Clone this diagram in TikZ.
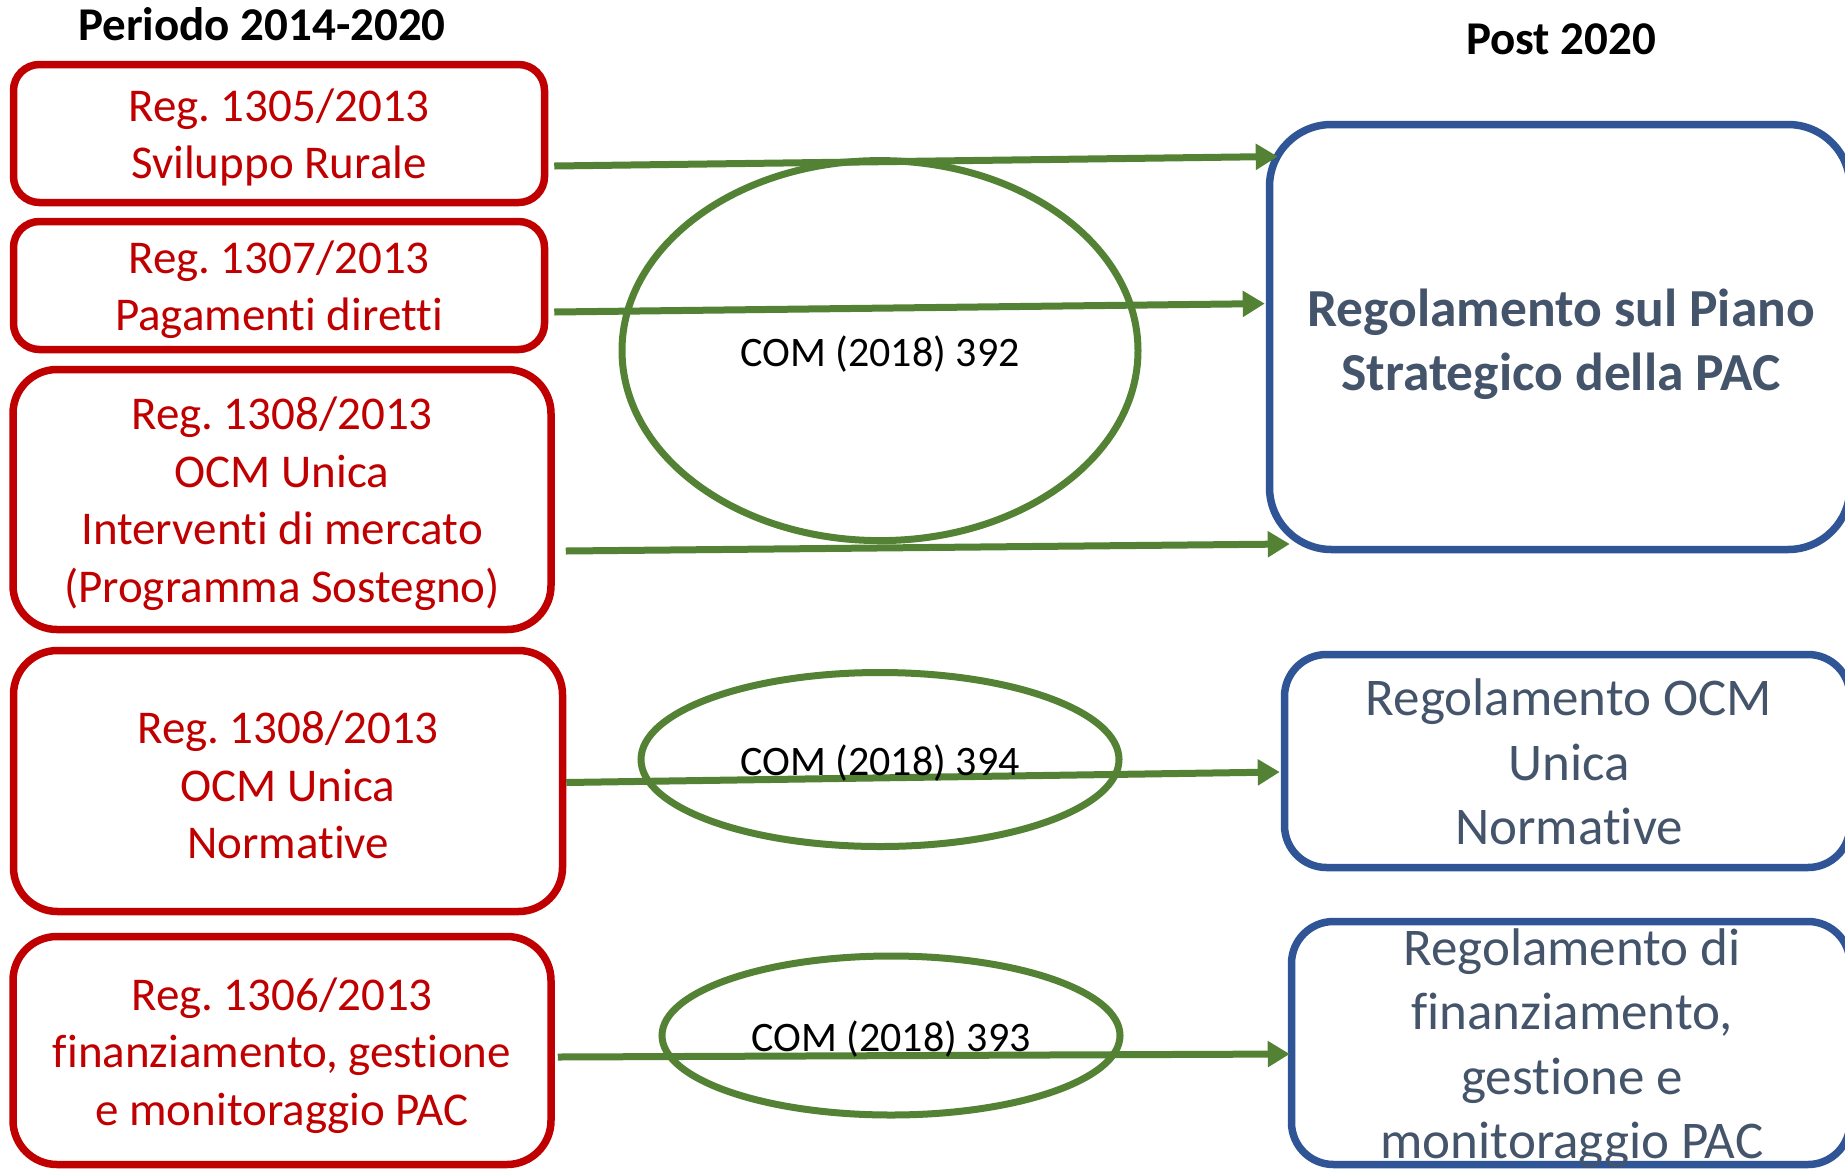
\documentclass[tikz,border=0pt]{standalone}
\usepackage{fontspec}
\setmainfont{Carlito}[Ligatures=NoCommon]
\frenchspacing
\usetikzlibrary{arrows.meta,shapes.geometric,calc}
\definecolor{regred}{HTML}{C00000}
\definecolor{regblue}{HTML}{2F5597}
\definecolor{slate}{HTML}{44546A}
\definecolor{leafgreen}{HTML}{548235}
\begin{document}
\begin{tikzpicture}[x=1pt,y=-1pt,
  oldbox/.style={draw=regred, line width=7.5pt, rounded corners=26pt, inner sep=0pt},
  oldtext/.style={text=regred, align=center, inner sep=0pt, font=\fontsize{47}{57.5}\selectfont},
  newbox/.style={draw=regblue, line width=7.5pt, rounded corners=42pt, inner sep=0pt},
  newtext/.style={text=slate, align=center, inner sep=0pt, font=\fontsize{53}{64.5}\selectfont},
  comring/.style={ellipse, draw=leafgreen, line width=7pt, inner sep=0pt},
  comtext/.style={inner sep=0pt, font=\fontsize{42}{50}\selectfont},
  flow/.style={draw=leafgreen, line width=7pt, -{Triangle[length=22pt,width=25pt]}},
  head/.style={inner sep=0pt, font=\fontsize{47}{57}\selectfont\bfseries}]
\useasboundingbox (0,0) rectangle (1845,1171);
\fill[white] (0,0) rectangle (1845,1171);

% headings
\node[head] (h1) at (262,24) {Periodo 2014-2020};
\node[head] (h2) at (1561,39) {Post 2020};

% left column
\node[oldbox, minimum width=531pt, minimum height=138pt] (l1) at (279,133.5) {};
\node[oldbox, minimum width=531pt, minimum height=128pt] (l2) at (279,285.5) {};
\node[oldbox, rounded corners=44pt, minimum width=538pt, minimum height=260pt] (l3) at (282,499.5) {};
\node[oldbox, rounded corners=44pt, minimum width=549pt, minimum height=261pt] (l4) at (288,781) {};
\node[oldbox, rounded corners=44pt, minimum width=538pt, minimum height=228pt] (l5) at (282,1050.5) {};
\node[oldtext] (l1t) at ($(l1.center)+(0,4)$) {Reg. 1305/2013\\Sviluppo Rurale};
\node[oldtext] (l2t) at ($(l2.center)+(0,4)$) {Reg. 1307/2013\\Pagamenti diretti};
\node[oldtext] (l3t) at ($(l3.center)+(0,4)$) {Reg. 1308/2013\\OCM Unica\\Interventi di mercato\\(Programma Sostegno)};
\node[oldtext] (l4t) at ($(l4.center)+(0,4)$) {Reg. 1308/2013\\OCM Unica\\Normative};
\node[oldtext] (l5t) at ($(l5.center)+(0,5)$) {Reg. 1306/2013\\finanziamento, gestione\\e monitoraggio PAC};

% right column
\node[newbox, rounded corners=62pt, minimum width=580.5pt, minimum height=425pt] (rbig) at (1559.75,337) {};
\node[newbox, minimum width=565.5pt, minimum height=213pt] (r2) at (1567.25,761) {};
\node[newbox, minimum width=558.5pt, minimum height=243pt] (r3) at (1570.75,1043) {};
\node[newtext, font=\fontsize{53.5}{64}\selectfont\bfseries] (rbigt) at (1561,344) {Regolamento sul Piano\\Strategico della PAC};
\node[newtext] (r2t) at (1569,762) {Regolamento OCM\\Unica\\Normative};
\node[newtext] (r3t) at (1572,1048) {Regolamento di\\finanziamento,\\gestione e\\monitoraggio PAC};

% COM ellipses
\node[comring, minimum width=516pt, minimum height=380pt] (e1) at (880,350.6) {};
\node[comring, minimum width=478pt, minimum height=174pt] (e2) at (880,759.5) {};
\node[comring, minimum width=458pt, minimum height=159pt] (e3) at (891,1035.5) {};

% connectors
\draw[flow] ($(l1.east)+(6,32.5)$) -- ($(rbig.west)+(12,-180.5)$);
\draw[flow] ($(l2.east)+(6,26.5)$) -- ($(rbig.west)+(-1,-33.4)$);
\draw[flow] ($(l3.east)+(11,51.5)$) -- ($(rbig.west)+(24,207)$);
\draw[flow] ($(l4.east)+(0,1.5)$) -- ($(r2.west)+(-1,11)$);
\draw[flow] ($(l5.east)+(3,6.5)$) -- ($(r3.west)+(2,11)$);

% COM labels
\node[comtext] (c1) at ($(e1.center)+(0,3.5)$) {COM (2018) 392};
\node[comtext] (c2) at ($(e2.center)+(0,4)$) {COM (2018) 394};
\node[comtext] (c3) at ($(e3.center)+(0,4)$) {COM (2018) 393};
\end{tikzpicture}
\end{document}
